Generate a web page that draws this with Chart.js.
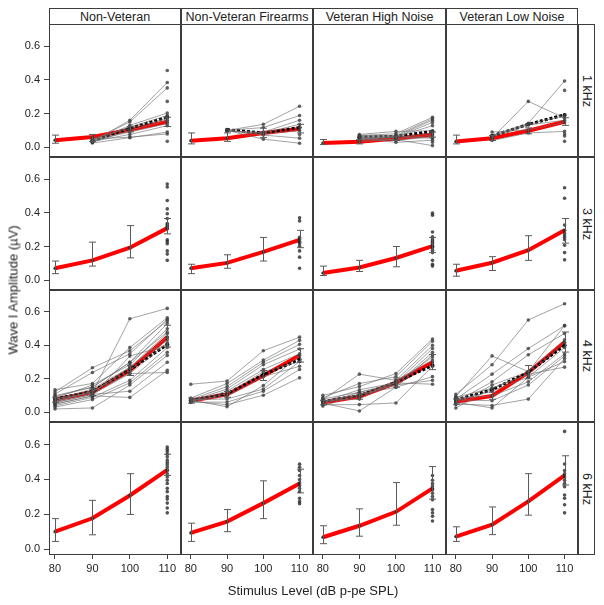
<!DOCTYPE html>
<html>
<head>
<meta charset="utf-8">
<script src="https://cdn.jsdelivr.net/npm/chart.js@4"></script>
<style>
  body { margin: 0; background: #fff; font-family: 'Liberation Sans', Arial, sans-serif; color: #222; }
  #wrap { position: relative; width: 604px; height: 605px; overflow: hidden; }
  canvas { position: absolute; }
  .panel { position: absolute; box-sizing: border-box; border: 1px solid #3c3c3c; }
  .strip { position: absolute; box-sizing: border-box; border: 1px solid #3c3c3c; background: #fff;
           font-size: 12.5px; display: flex; align-items: center; justify-content: center; white-space: nowrap; }
  .vstrip span { writing-mode: vertical-rl; }
  .title { position: absolute; white-space: nowrap; font-size: 13px; font-weight: normal; color: #222; }
  #ytitle { writing-mode: vertical-rl; }
</style>
</head>
<body>
<div id="wrap"></div>
<script>
// facets
const groups = ['Non-Veteran', 'Non-Veteran Firearms', 'Veteran High Noise', 'Veteran Low Noise'];
const freqs = ['1 kHz', '3 kHz', '4 kHz', '6 kHz'];
const levels = [80, 90, 100, 110];
const yTicks = [0, 0.2, 0.4, 0.6];

// model fit (red) per frequency, one row per group
const fit1k = [[0.042, 0.061, 0.104, 0.151], [0.039, 0.054, 0.085, 0.109], [0.025, 0.032, 0.052, 0.075], [0.034, 0.054, 0.098, 0.151]];
const fit3k = [[0.071, 0.118, 0.193, 0.309], [0.071, 0.103, 0.168, 0.240], [0.043, 0.076, 0.132, 0.202], [0.056, 0.104, 0.178, 0.296]];
const fit4k = [[0.075, 0.120, 0.251, 0.449], [0.069, 0.107, 0.219, 0.340], [0.058, 0.094, 0.176, 0.299], [0.063, 0.098, 0.238, 0.419]];
const fit6k = [[0.100, 0.177, 0.308, 0.455], [0.093, 0.158, 0.264, 0.377], [0.068, 0.134, 0.214, 0.349], [0.072, 0.140, 0.274, 0.423]];

// error bar ends
const lo1k = [[0.024, 0.035, 0.091, 0.123], [0.020, 0.035, 0.057, 0.085], [0.016, 0.020, 0.040, 0.060], [0.020, 0.040, 0.080, 0.130]];
const hi1k = [[0.072, 0.076, 0.123, 0.178], [0.085, 0.085, 0.113, 0.136], [0.046, 0.045, 0.065, 0.090], [0.072, 0.070, 0.115, 0.175]];
const lo3k = [[0.039, 0.084, 0.133, 0.275], [0.039, 0.071, 0.114, 0.193], [0.028, 0.052, 0.080, 0.164], [0.024, 0.058, 0.118, 0.220]];
const hi3k = [[0.114, 0.226, 0.324, 0.366], [0.095, 0.151, 0.254, 0.296], [0.084, 0.118, 0.200, 0.254], [0.095, 0.140, 0.264, 0.366]];
const lo4k = [[0.060, 0.100, 0.220, 0.390], [0.055, 0.090, 0.190, 0.300], [0.045, 0.078, 0.150, 0.255], [0.048, 0.078, 0.200, 0.360]];
const hi4k = [[0.090, 0.140, 0.280, 0.520], [0.085, 0.125, 0.250, 0.380], [0.072, 0.110, 0.205, 0.345], [0.080, 0.120, 0.280, 0.480]];
const lo6k = [[0.044, 0.082, 0.199, 0.423], [0.044, 0.100, 0.175, 0.323], [0.031, 0.074, 0.137, 0.287], [0.044, 0.083, 0.195, 0.368]];
const hi6k = [[0.175, 0.280, 0.433, 0.545], [0.149, 0.227, 0.392, 0.459], [0.134, 0.231, 0.382, 0.474], [0.128, 0.242, 0.433, 0.536]];

// observed means (black dotted)
const mean1k = [[null, 0.038, 0.113, 0.178], [null, 0.104, 0.085, 0.117], [null, 0.060, 0.065, 0.094], [null, 0.067, 0.136, 0.192]];
const mean4k = [[0.080, 0.125, 0.255, 0.405], [0.072, 0.110, 0.225, 0.315], [0.065, 0.100, 0.180, 0.280], [0.075, 0.135, 0.240, 0.400]];

// individual subjects (80, 90, 100, 110)
const subj1k = [
  [[null, 0.035, 0.160, 0.384], [null, 0.040, 0.150, 0.352], [null, 0.030, 0.130, 0.203], [null, 0.045, 0.120, 0.188],
   [null, 0.050, 0.110, 0.173], [null, 0.030, 0.100, 0.160], [null, 0.040, 0.090, 0.141], [null, 0.035, 0.076, 0.128],
   [null, 0.025, 0.057, 0.090], [null, 0.050, 0.060, 0.079], [null, null, null, 0.455], [null, null, null, 0.272], [null, null, null, 0.035]],
  [[null, 0.100, 0.136, 0.243], [null, 0.100, 0.117, 0.188], [null, 0.095, 0.090, 0.160], [null, 0.100, 0.085, 0.136],
   [null, 0.098, 0.080, 0.098], [null, 0.100, 0.072, 0.054], [null, 0.100, 0.048, 0.024], [null, null, null, 0.117], [null, null, null, 0.076]],
  [[null, 0.070, 0.080, 0.178], [null, 0.068, 0.070, 0.169], [null, 0.065, 0.065, 0.160], [null, 0.060, 0.060, 0.147],
   [null, 0.057, 0.060, 0.128], [null, 0.076, 0.094, 0.098], [null, 0.050, 0.057, 0.085], [null, 0.042, 0.050, 0.072],
   [null, 0.060, 0.042, 0.061], [null, 0.045, 0.065, 0.053], [null, 0.055, 0.029, 0.042], [null, 0.035, 0.045, 0.010], [null, null, null, 0.029]],
  [[null, 0.054, 0.272, 0.173], [null, 0.070, 0.142, 0.393], [null, 0.067, 0.136, 0.188], [null, 0.060, 0.132, 0.160],
   [null, 0.090, 0.104, 0.147], [null, 0.040, 0.085, 0.094], [null, null, null, 0.337], [null, null, null, 0.079],
   [null, null, null, 0.067], [null, null, null, 0.035]]
];
const subj4k = [
  [[0.135, 0.172, 0.387, 0.565], [0.122, 0.266, 0.368, 0.546], [0.109, 0.238, 0.349, 0.555], [0.094, 0.150, 0.299, 0.531],
   [0.070, 0.117, 0.559, 0.621], [0.085, 0.163, 0.284, 0.499], [0.076, 0.139, 0.269, 0.471], [0.067, 0.126, 0.251, 0.434],
   [0.057, 0.107, 0.232, 0.415], [0.048, 0.098, 0.336, 0.400], [0.039, 0.089, 0.191, 0.387], [0.031, 0.076, 0.176, 0.359],
   [0.020, 0.026, 0.163, 0.340], [0.060, 0.107, 0.126, 0.299], [0.050, 0.098, 0.089, 0.251], [0.065, 0.126, 0.232, 0.238],
   [0.080, 0.117, 0.269, 0.450], [0.100, 0.150, 0.299, 0.480]],
  [[0.168, 0.187, 0.368, 0.449], [0.085, 0.172, 0.312, 0.430], [0.076, 0.154, 0.299, 0.406], [0.069, 0.139, 0.284, 0.378],
   [0.065, 0.126, 0.256, 0.350], [0.059, 0.113, 0.243, 0.303], [0.070, 0.098, 0.213, 0.275], [0.075, 0.080, 0.139, 0.303],
   [0.060, 0.061, 0.126, 0.256], [0.066, 0.046, 0.102, 0.206], [0.072, 0.033, 0.160, 0.340]],
  [[0.101, 0.154, 0.232, 0.438], [0.087, 0.172, 0.213, 0.425], [0.074, 0.228, 0.191, 0.400], [0.063, 0.135, 0.176, 0.381],
   [0.050, 0.120, 0.163, 0.359], [0.037, 0.107, 0.150, 0.344], [0.060, 0.094, 0.176, 0.331], [0.070, 0.079, 0.191, 0.312],
   [0.045, 0.046, 0.056, 0.275], [0.055, 0.008, 0.150, 0.213], [0.065, 0.107, 0.163, 0.191], [0.080, 0.120, 0.176, 0.168]],
  [[0.107, 0.284, 0.552, 0.649], [0.094, 0.337, 0.243, 0.518], [0.079, 0.228, 0.381, 0.518], [0.063, 0.182, 0.344, 0.471],
   [0.046, 0.163, 0.243, 0.434], [0.026, 0.144, 0.228, 0.415], [0.070, 0.126, 0.210, 0.387], [0.085, 0.098, 0.182, 0.350],
   [0.075, 0.069, 0.163, 0.337], [0.050, 0.041, 0.079, 0.322], [0.060, 0.026, 0.210, 0.303], [0.090, 0.144, 0.228, 0.270]]
];

// individual values at 110 only
const pts3k = [
  [0.570, 0.553, 0.473, 0.423, 0.394, 0.366, 0.336, 0.327, 0.320, 0.305, 0.240, 0.230, 0.217, 0.174, 0.155, 0.118],
  [0.370, 0.352, 0.245, 0.230, 0.217, 0.202, 0.174, 0.137, 0.071, 0.255, 0.225],
  [0.398, 0.385, 0.286, 0.258, 0.245, 0.234, 0.226, 0.215, 0.202, 0.193, 0.178, 0.164, 0.118, 0.095, 0.084],
  [0.548, 0.486, 0.327, 0.296, 0.277, 0.264, 0.253, 0.240, 0.208, 0.164, 0.121]
];
const pts6k = [
  [0.586, 0.573, 0.560, 0.545, 0.530, 0.511, 0.498, 0.485, 0.470, 0.451, 0.433, 0.414, 0.395, 0.377, 0.349, 0.330, 0.302, 0.287, 0.264, 0.236, 0.208],
  [0.488, 0.470, 0.451, 0.423, 0.399, 0.380, 0.367, 0.349, 0.330, 0.292, 0.274, 0.261],
  [0.423, 0.395, 0.377, 0.362, 0.340, 0.321, 0.302, 0.283, 0.227, 0.208, 0.189, 0.161],
  [0.676, 0.489, 0.451, 0.433, 0.414, 0.395, 0.377, 0.358, 0.311, 0.292, 0.255, 0.208]
];

const rows = [
  { fit: fit1k, lo: lo1k, hi: hi1k, mean: mean1k, subj: subj1k },
  { fit: fit3k, lo: lo3k, hi: hi3k, pts: pts3k },
  { fit: fit4k, lo: lo4k, hi: hi4k, mean: mean4k, subj: subj4k },
  { fit: fit6k, lo: lo6k, hi: hi6k, pts: pts6k }
];

const colX = [49, 181, 313, 446, 578];
const rowY = [24, 157, 290, 422, 555];
const FONT = "'Liberation Sans', Arial, sans-serif";
const wrap = document.getElementById('wrap');

const errorBars = {
  id: 'errorBars',
  afterDatasetsDraw(chart, args, opts) {
    const { ctx, scales: { x, y } } = chart;
    ctx.save();
    ctx.strokeStyle = '#5a5a5a';
    ctx.lineWidth = 1;
    levels.forEach((lv, i) => {
      const px = Math.round(x.getPixelForValue(lv)) + 0.5;
      const y1 = y.getPixelForValue(opts.lo[i]), y2 = y.getPixelForValue(opts.hi[i]);
      ctx.beginPath();
      ctx.moveTo(px, y1); ctx.lineTo(px, y2);
      ctx.moveTo(px - 3.5, y1); ctx.lineTo(px + 3.5, y1);
      ctx.moveTo(px - 3.5, y2); ctx.lineTo(px + 3.5, y2);
      ctx.stroke();
    });
    ctx.restore();
  }
};

function xy(vals) { return levels.map((lv, i) => ({ x: lv, y: vals[i] })); }

function makePanel(r, c) {
  const spec = rows[r];
  const w = colX[c + 1] - colX[c], h = rowY[r + 1] - rowY[r];
  const left = c === 0 ? 0 : colX[c];
  const cw = c === 0 ? w + colX[0] : w;
  const ch = r === 3 ? h + 32 : h;
  const showX = r === 3, showY = c === 0;

  const box = document.createElement('div');
  box.className = 'panel';
  Object.assign(box.style, { left: colX[c] + 'px', top: rowY[r] + 'px', width: w + 'px', height: h + 'px' });
  wrap.appendChild(box);

  const cv = document.createElement('canvas');
  cv.width = cw; cv.height = ch;
  cv.style.left = left + 'px'; cv.style.top = rowY[r] + 'px';
  wrap.appendChild(cv);

  const datasets = [];
  if (spec.subj) {
    spec.subj[c].forEach(s => datasets.push({
      data: xy(s), borderColor: 'rgba(110,110,110,0.8)', borderWidth: 0.8,
      pointRadius: 1.8, pointBackgroundColor: 'rgba(60,60,60,0.8)', pointBorderWidth: 0, spanGaps: false
    }));
    datasets.push({
      data: xy(spec.mean[c]), borderColor: '#000', borderWidth: 3, borderDash: [3, 2],
      pointRadius: 2, pointBackgroundColor: '#000', pointBorderWidth: 0
    });
  } else {
    datasets.push({
      data: spec.pts[c].map(v => ({ x: 110, y: v })), showLine: false,
      pointRadius: 1.8, pointBackgroundColor: 'rgba(40,40,40,0.8)', pointBorderWidth: 0
    });
  }
  datasets.push({
    data: xy(spec.fit[c]), borderColor: '#ff0000', borderWidth: 4,
    pointRadius: 1.6, pointBackgroundColor: '#333', pointBorderWidth: 0
  });

  new Chart(cv, {
    type: 'line',
    data: { datasets },
    plugins: [errorBars],
    options: {
      responsive: false, animation: false, devicePixelRatio: 1,
      layout: { padding: 0 },
      plugins: { legend: { display: false }, tooltip: { enabled: false }, errorBars: { lo: spec.lo[c], hi: spec.hi[c] } },
      scales: {
        x: {
          type: 'linear', min: 78.4, max: 112.6, display: showX,
          afterBuildTicks: s => { s.ticks = levels.map(v => ({ value: v })); },
          afterFit: s => { if (showX) { s.height = 32; s.paddingLeft = 0; s.paddingRight = 0; } },
          border: { display: false },
          grid: { drawOnChartArea: false, drawTicks: true, tickLength: 4, color: '#444' },
          ticks: { autoSkip: false, maxRotation: 0, padding: 3, color: '#222', font: { family: FONT, size: 11 } }
        },
        y: {
          type: 'linear', min: -0.034, max: 0.707, display: showY,
          afterBuildTicks: s => { s.ticks = yTicks.map(v => ({ value: v })); },
          afterFit: s => { if (showY) { s.width = colX[0]; s.paddingTop = 0; s.paddingBottom = 0; } },
          border: { display: false },
          grid: { drawOnChartArea: false, drawTicks: true, tickLength: 5, color: '#444' },
          ticks: { autoSkip: false, padding: 4, color: '#222', font: { family: FONT, size: 11 },
                   callback: v => v.toFixed(1) }
        }
      }
    }
  });
}

for (let r = 0; r < 4; r++) for (let c = 0; c < 4; c++) makePanel(r, c);

// top strips
groups.forEach((g, c) => {
  const d = document.createElement('div');
  d.className = 'strip';
  Object.assign(d.style, { left: colX[c] + 'px', top: '8px', width: (colX[c + 1] - colX[c]) + 'px', height: '17px' });
  d.textContent = g;
  wrap.appendChild(d);
});
// right strips
freqs.forEach((f, r) => {
  const d = document.createElement('div');
  d.className = 'strip vstrip';
  Object.assign(d.style, { left: colX[4] + 'px', top: rowY[r] + 'px', width: '17px', height: (rowY[r + 1] - rowY[r]) + 'px' });
  d.innerHTML = '<span>' + f + '</span>';
  wrap.appendChild(d);
});

const yt = document.createElement('div');
yt.className = 'title';
yt.id = 'ytitle';
yt.textContent = 'Wave I Amplitude (µV)';
Object.assign(yt.style, { left: '13px', top: '290px', transform: 'translate(-50%,-50%) rotate(180deg)' });
wrap.appendChild(yt);

const xt = document.createElement('div');
xt.className = 'title';
xt.textContent = 'Stimulus Level (dB p-pe SPL)';
Object.assign(xt.style, { left: '313px', top: '590px', transform: 'translate(-50%,-50%)' });
wrap.appendChild(xt);
</script>
</body>
</html>
